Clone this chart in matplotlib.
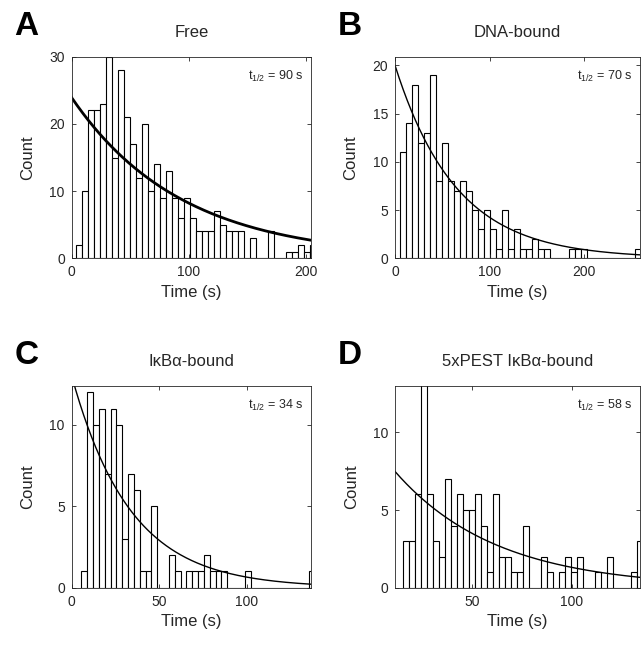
import numpy as np
import matplotlib
matplotlib.use("Agg")
import matplotlib.pyplot as plt

plt.rcParams['font.family'] = ['Liberation Sans', 'DejaVu Sans']
plt.rcParams['mathtext.fontset'] = 'custom'
plt.rcParams['mathtext.rm'] = 'Liberation Sans'
plt.rcParams['mathtext.it'] = 'Liberation Sans'

# histogram counts per bin (40 bins each)
free_counts = [2, 10, 22, 22, 23, 30, 15, 28, 21, 17, 12, 20, 10, 14, 9, 13, 9, 6, 9, 6,
               4, 4, 4, 7, 5, 4, 4, 4, 0, 3, 0, 0, 4, 0, 0, 1, 1, 2, 1, 2]
dna_counts = [11, 14, 18, 12, 13, 19, 8, 12, 8, 7, 8, 7, 5, 3, 5, 3, 1, 5, 1, 3,
              1, 1, 2, 1, 1, 0, 0, 0, 1, 1, 1, 0, 0, 0, 0, 0, 0, 0, 0, 1]
ikba_counts = [1, 12, 10, 11, 7, 11, 10, 3, 7, 6, 1, 1, 5, 0, 0, 2, 1, 0, 1, 1,
               1, 2, 1, 1, 1, 0, 0, 0, 1, 0, 0, 0, 0, 0, 0, 0, 0, 0, 0, 1]
pest_counts = [3, 3, 6, 15, 6, 3, 2, 7, 4, 6, 5, 5, 6, 4, 1, 6, 2, 2, 1, 1,
               4, 0, 0, 2, 1, 0, 1, 2, 1, 2, 0, 0, 1, 0, 2, 0, 0, 0, 1, 3]

# first bin edge and bin width (s)
bin_start = [3.7, 5.6, 5.5, 15.3]
bin_width = [5.12, 6.35, 3.33, 3.02]

# exponential fit: amplitude, rate (1/s)
fit_amp = [23.9, 20.0, 13.0, 9.3]
fit_rate = [0.0107, 0.0155, 0.030, 0.0196]
half_life = [90, 70, 34, 58]

titles = ['Free', 'DNA-bound', 'IκBα-bound', '5xPEST IκBα-bound']
letters = ['A', 'B', 'C', 'D']
xlims = [(0, 204), (0, 259), (0, 136.5), (11.1, 134.4)]
ylims = [(0, 30), (0, 20.9), (0, 12.4), (0, 13.0)]
xticks = [[0, 100, 200], [0, 100, 200], [0, 50, 100], [50, 100]]
yticks = [[0, 10, 20, 30], [0, 5, 10, 15, 20], [0, 5, 10], [0, 5, 10]]
fit_lw = [2.0, 1.0, 1.0, 1.0]

all_counts = [free_counts, dna_counts, ikba_counts, pest_counts]

fig = plt.figure(figsize=(6.42, 6.45), dpi=100)
positions = [[0.1117, 0.5995, 0.3728, 0.3126],
             [0.6153, 0.5995, 0.3816, 0.3126],
             [0.1117, 0.0888, 0.3728, 0.3132],
             [0.6153, 0.0888, 0.3816, 0.3132]]
axcol = '#262626'

for i in range(4):
    ax = fig.add_axes(positions[i])
    counts = np.array(all_counts[i])
    lefts = bin_start[i] + bin_width[i] * np.arange(len(counts))
    ax.bar(lefts, counts, width=bin_width[i], align='edge',
           facecolor='white', edgecolor='black', linewidth=0.8)
    t = np.linspace(xlims[i][0], xlims[i][1], 300)
    ax.plot(t, fit_amp[i] * np.exp(-fit_rate[i] * t), color='black', lw=fit_lw[i])
    ax.set_xlim(xlims[i])
    ax.set_ylim(ylims[i])
    ax.set_xticks(xticks[i])
    ax.set_yticks(yticks[i])
    ax.tick_params(direction='in', length=3, width=0.6, top=True, right=True,
                   labelsize=10, colors=axcol, pad=5)
    for s in ax.spines.values():
        s.set_color(axcol)
        s.set_linewidth(0.6)
    ax.set_xlabel('Time (s)', fontsize=12, color=axcol)
    ax.set_ylabel('Count', fontsize=12, color=axcol, labelpad=10)
    ax.set_title(titles[i], fontsize=12, pad=14, color=axcol)
    ax.text(0.97, 0.90, r't$_{\mathrm{1/2}}$ = %d s' % half_life[i],
            transform=ax.transAxes, ha='right', va='center', fontsize=9, color=axcol)
    fig.text(positions[i][0] - 0.071, positions[i][1] + positions[i][3] + 0.047,
             letters[i], fontsize=24, fontweight='bold', ha='center', va='center')

fig.savefig('out.png', dpi=100)
